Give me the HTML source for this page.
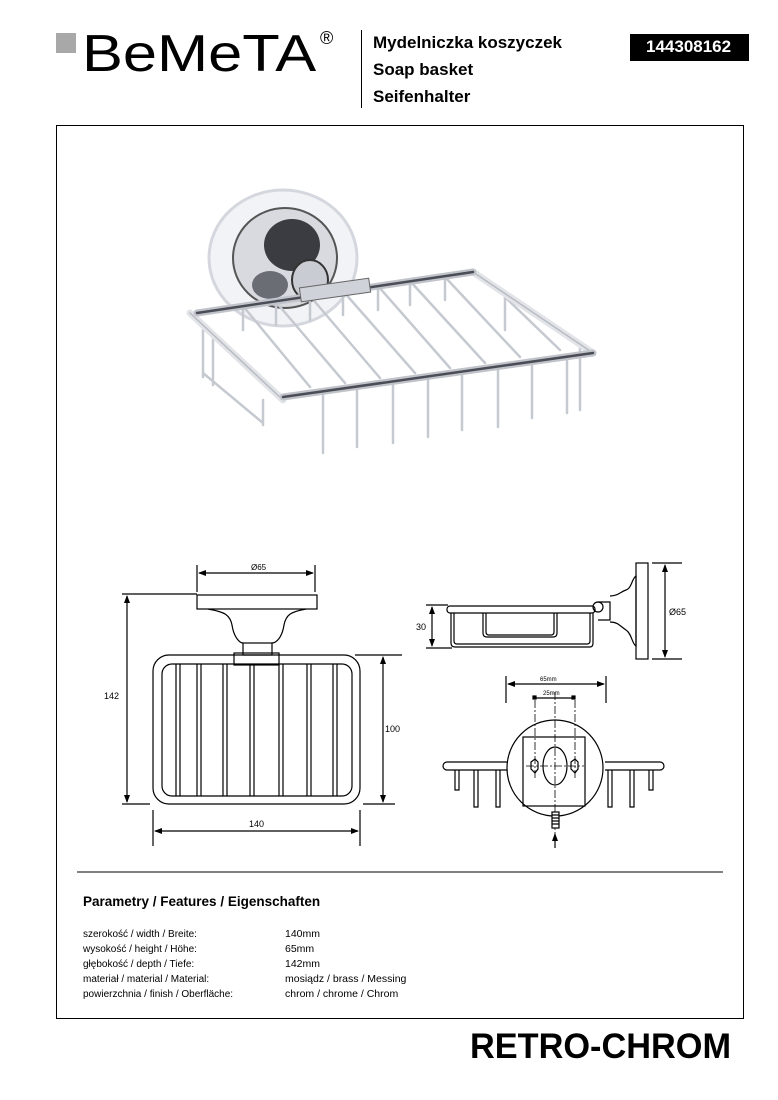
<!DOCTYPE html>
<html><head><meta charset="utf-8"><style>
body{margin:0;background:#fff;}
.p{position:relative;width:778px;height:1100px;overflow:hidden;font-family:"Liberation Sans",sans-serif;}
.t{position:absolute;white-space:nowrap;color:#000;}
</style></head><body><div class="p">
<div style="position:absolute;left:56px;top:33px;width:20px;height:20px;background:#a8a8a8"></div>
<div class="t" style="left:82px;top:28px;font-size:52px;line-height:52px;transform:scaleX(1.18);transform-origin:left">BeMeTA</div>
<div class="t" style="left:320px;top:28px;font-size:18px">®</div>
<div style="position:absolute;left:361px;top:30px;width:1px;height:78px;background:#000"></div>
<div class="t" style="left:373px;top:29px;font-size:17px;font-weight:bold;line-height:27px">Mydelniczka koszyczek<br>Soap basket<br>Seifenhalter</div>
<div style="position:absolute;left:630px;top:34px;width:119px;height:27px;background:#000"></div>
<div class="t" style="left:646px;top:37px;font-size:17px;font-weight:bold;color:#fff">144308162</div>
<div style="position:absolute;left:56px;top:125px;width:686px;height:892px;border:1px solid #000"></div>

<svg style="position:absolute;left:0;top:0" width="778" height="1100" viewBox="0 0 778 1100">
<defs><marker id="a" markerWidth="8" markerHeight="8" refX="7" refY="4" orient="auto-start-reverse" markerUnits="userSpaceOnUse"><path d="M0,1 L8,4 L0,7z" fill="#000"/></marker></defs>
<!-- photo -->
<g fill="none" stroke-linecap="round">
<ellipse cx="283" cy="258" rx="74" ry="68" fill="#f2f3f6" stroke="#d4d7de" stroke-width="3"/>
<ellipse cx="285" cy="258" rx="52" ry="50" fill="#d8dadf" stroke="#555" stroke-width="2"/>
<ellipse cx="292" cy="245" rx="28" ry="26" fill="#3a3c42"/>
<ellipse cx="270" cy="285" rx="18" ry="14" fill="#6a6d74"/>
<ellipse cx="310" cy="280" rx="18" ry="20" fill="#c9ccd2" stroke="#333" stroke-width="2"/>
<g stroke="#c5c9d0" stroke-width="2.5">
<path d="M203 330 V377 M213 335 V385 M203 373 L263 423 M263 400 V425"/>
<path d="M323 392 V453 M357 387 V447 M393 382 V443 M428 377 V437 M462 372 V430 M498 367 V427 M532 362 V418 M567 357 V413"/>
<path d="M243 306 L310 387 M276 302 L345 383 M310 296 L380 378 M343 291 L415 373 M378 286 L450 368 M410 281 L485 363 M445 277 L520 357 M505 297 L560 350"/>
<path d="M243 306 V330 M276 302 V325 M310 296 V320 M343 291 V315 M378 286 V310 M410 281 V305 M445 277 V300 M505 297 V330 M580 345 V410"/>
</g>
<path d="M190 313 L283 400 M473 272 L593 353" stroke="#e2e4e8" stroke-width="7"/>
<path d="M190 313 L283 400 M473 272 L593 353" stroke="#b8bcc4" stroke-width="1.5"/>
<path d="M197 313 L473 272 M283 397 L593 353" stroke="#c0c3ca" stroke-width="7"/>
<path d="M197 313 L473 272 M283 397 L593 353" stroke="#4a4d55" stroke-width="2.5"/>
<rect x="300" y="283" width="70" height="14" fill="#cfd2d8" stroke="#666" stroke-width="1" transform="rotate(-8 335 290)"/>
</g>
<!-- front drawing -->
<g fill="none" stroke="#000" stroke-width="1.2">
<line x1="197" y1="565" x2="197" y2="592"/><line x1="315" y1="565" x2="315" y2="592"/>
<line x1="199" y1="573" x2="313" y2="573" marker-start="url(#a)" marker-end="url(#a)"/>
<rect x="197" y="595" width="120" height="14"/>
<path d="M208 609 C225 612,230 615,232 625 C234 638,240 643,243 643 M306 609 C290 612,286 615,284 625 C282 638,276 643,272 643"/>
<rect x="243" y="643" width="29" height="12"/>
<rect x="234" y="653" width="45" height="12"/>
<rect x="153" y="655" width="207" height="149" rx="16"/>
<rect x="162" y="664" width="190" height="132" rx="10"/>
<path d="M176 664V796M180 664V796M197 664V796M201 664V796M223 664V796M227 664V796M250 664V796M254 664V796M279 664V796M283 664V796M307 664V796M311 664V796M333 664V796M337 664V796"/>
<line x1="122" y1="594" x2="197" y2="594"/><line x1="122" y1="804" x2="150" y2="804"/>
<line x1="127" y1="596" x2="127" y2="802" marker-start="url(#a)" marker-end="url(#a)"/>
<line x1="355" y1="655" x2="402" y2="655"/><line x1="363" y1="804" x2="395" y2="804"/>
<line x1="383" y1="657" x2="383" y2="802" marker-start="url(#a)" marker-end="url(#a)"/>
<line x1="153" y1="810" x2="153" y2="846"/><line x1="360" y1="810" x2="360" y2="846"/>
<line x1="155" y1="831" x2="358" y2="831" marker-start="url(#a)" marker-end="url(#a)"/>
</g>
<!-- side view -->
<g fill="none" stroke="#000" stroke-width="1.2">
<line x1="426" y1="605" x2="448" y2="605"/><line x1="426" y1="648" x2="452" y2="648"/>
<line x1="432" y1="607" x2="432" y2="646" marker-start="url(#a)" marker-end="url(#a)"/>
<rect x="447" y="606" width="148" height="7" rx="3"/>
<path d="M451 613 V643 Q451 647 455 647 H590 Q593 647 593 643 V613"/>
<path d="M454 613 V641 Q454 644 457 644 H587 Q590 644 590 641 V613"/>
<path d="M483 613 V633 Q483 637 487 637 H553 Q557 637 557 633 V613 M486 613 V632 Q486 635 489 635 H551 Q554 635 554 632 V613"/>
<circle cx="598" cy="607" r="5"/>
<path d="M598 602 H610 V620 H598"/>
<path d="M610 596 C618 596,620 592,626 590 C632 588,632 578,636 576 V646 C632 644,632 634,626 630 C620 626,618 622,610 622"/>
<rect x="636" y="563" width="12" height="96"/>
<line x1="652" y1="563" x2="682" y2="563"/><line x1="652" y1="659" x2="682" y2="659"/>
<line x1="665" y1="565" x2="665" y2="657" marker-start="url(#a)" marker-end="url(#a)"/>
</g>
<!-- bottom view -->
<g fill="none" stroke="#000" stroke-width="1.2">
<line x1="506" y1="676" x2="506" y2="703"/><line x1="606" y1="676" x2="606" y2="703"/>
<line x1="508" y1="684" x2="604" y2="684" marker-start="url(#a)" marker-end="url(#a)"/>
<line x1="536" y1="698" x2="572" y2="698"/>
<rect x="533" y="696" width="3" height="3" fill="#000"/><rect x="572" y="696" width="3" height="3" fill="#000"/>
<path d="M447 762 H510 M447 770 H509 M447 762 A4 4 0 0 0 447 770 M605 762 H660 M605 770 H660 M660 762 A4 4 0 0 1 660 770"/>
<path d="M455 770V790H459V770 M474 770V807H478V770 M496 770V807H500V770 M608 770V807H612V770 M630 770V807H634V770 M649 770V790H653V770"/>
<circle cx="555" cy="768" r="48" fill="#fff"/>
<rect x="523" y="737" width="62" height="69"/>
<ellipse cx="555" cy="766" rx="12" ry="19"/>
<path d="M531 762 L535 759 L538 762 L538 769 L535 773 L531 769 Z M571 762 L575 759 L578 762 L578 769 L575 773 L571 769 Z"/>
<g stroke-dasharray="8 2 2 2" stroke-width="0.8">
<line x1="555" y1="692" x2="555" y2="840"/><line x1="535" y1="700" x2="535" y2="780"/><line x1="575" y1="700" x2="575" y2="780"/>
<line x1="526" y1="766" x2="584" y2="766"/>
</g>
<rect x="552" y="812" width="7" height="16" fill="#fff"/>
<path d="M552 815H559M552 818H559M552 821H559M552 824H559" />
<line x1="555" y1="848" x2="555" y2="834" marker-end="url(#a)"/>
</g>
<g font-family="Liberation Sans,sans-serif" font-size="8" fill="#000">
<text x="251" y="570">Ø65</text><text x="104" y="699" font-size="9">142</text><text x="385" y="732" font-size="9">100</text><text x="249" y="827" font-size="9">140</text>
<text x="416" y="630" font-size="9">30</text><text x="669" y="615" font-size="9">Ø65</text>
<text x="540" y="681" font-size="6">65mm</text><text x="543" y="695" font-size="6">25mm</text>
</g>
<line x1="77" y1="872" x2="723" y2="872" stroke="#000" stroke-width="1"/>
</svg>
<div class="t" style="left:83px;top:894px;font-size:13.5px;font-weight:bold">Parametry / Features / Eigenschaften</div>
<div class="t" style="left:83px;top:927px;font-size:10px;line-height:15px">szerokość / width / Breite:<br>wysokość / height / Höhe:<br>głębokość / depth / Tiefe:<br>materiał / material / Material:<br>powierzchnia / finish / Oberfläche:</div>
<div class="t" style="left:285px;top:927px;font-size:10.5px;line-height:15px">140mm<br>65mm<br>142mm<br>mosiądz / brass / Messing<br>chrom / chrome / Chrom</div>
<div class="t" style="left:470px;top:1027px;font-size:35px;font-weight:bold;transform:scaleX(0.98);transform-origin:left">RETRO-CHROM</div>
</div></body></html>
